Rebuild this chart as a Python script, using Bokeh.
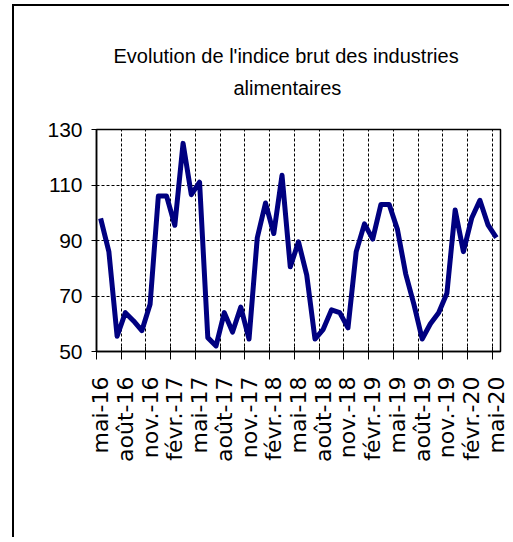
import math
from bokeh.plotting import figure
from bokeh.models import FixedTicker, LinearAxis, Range1d, Title
from bokeh.embed import file_html
from bokeh.resources import INLINE

# ---- data ----
indice = [98, 86, 55.5, 64, 61, 57.5, 67, 106, 106, 95.5, 125, 106.5, 111,
          55, 52, 64, 57, 66, 54.5, 91, 103.5, 92.5, 113.5, 80.5, 89.5,
          77.5, 54.5, 58, 65, 64, 58.5, 86, 96, 90.5, 103, 103, 94,
          78, 67, 54.5, 60, 64, 71, 101, 86, 98, 104.5, 95.5, 91]
tick_labels = ["mai-16", "août-16", "nov.-16", "févr.-17", "mai-17", "août-17",
               "nov.-17", "févr.-18", "mai-18", "août-18", "nov.-18", "févr.-19",
               "mai-19", "août-19", "nov.-19", "févr.-20", "mai-20"]
y_ticks = [50, 70, 90, 110, 130]
title_line1 = "Evolution  de l'indice brut des industries"
title_line2 = "alimentaires"

n = len(indice)
xs = list(range(n))
label_pos = [3 * k for k in range(len(tick_labels))]
bounds = [3 * k - 0.5 for k in range(len(tick_labels))]

SANS = "'Liberation Sans Narrow', 'Liberation Sans', Arial"

p = figure(width=497, height=533, x_range=Range1d(-0.5, n - 0.5), y_range=Range1d(50, 130),
           output_backend="svg", toolbar_location=None, title=None,
           min_border_left=82, min_border_right=11, min_border_top=123, min_border_bottom=188,
           background_fill_color="white", border_fill_color="white")
p.margin = (4, 0, 0, 12)
p.styles = {"border-left": "2px solid black", "border-top": "2px solid black"}

# spacer between frame and title lines
p.add_layout(Title(text=" ", text_font_size="2px", standoff=19), "above")
for txt, stand, off in [(title_line2, 16, 137), (title_line1, 0, 17)]:
    t = Title(text=txt, align="left", offset=off, text_font=SANS, text_font_size="20px",
              text_font_style="normal", text_color="black", standoff=stand)
    p.add_layout(t, "above")

p.outline_line_color = "black"
p.outline_line_width = 1.5

# y axis
ya = p.yaxis[0]
ya.ticker = FixedTicker(ticks=y_ticks)
ya.major_tick_in = 0
ya.major_tick_out = 5
ya.minor_tick_line_color = None
ya.axis_line_color = "black"
ya.axis_line_width = 1.5
ya.major_tick_line_color = "black"
ya.major_label_text_font = SANS
ya.major_label_text_font_size = "21px"
ya.major_label_text_color = "black"
ya.major_label_standoff = 9

# x axis 1: tick marks at category boundaries
xa = p.xaxis[0]
xa.ticker = FixedTicker(ticks=bounds)
xa.major_label_overrides = {b: "" for b in bounds}
xa.major_label_text_font_size = "1px"
xa.major_label_standoff = 0
xa.major_tick_in = 5
xa.major_tick_out = 8
xa.minor_tick_line_color = None
xa.axis_line_color = "black"
xa.axis_line_width = 1.5
xa.major_tick_line_color = "black"

# x axis 2: labels at category centres
xl = LinearAxis(ticker=FixedTicker(ticks=label_pos))
xl.major_label_overrides = {pos: lab for pos, lab in zip(label_pos, tick_labels)}
xl.major_label_orientation = math.pi / 2
xl.major_label_text_font = "DejaVu Sans"
xl.major_label_text_font_size = "22px"
xl.major_label_text_color = "black"
xl.major_label_standoff = 11
xl.major_tick_line_color = None
xl.minor_tick_line_color = None
xl.axis_line_color = None
p.add_layout(xl, "below")

# grids
p.xgrid.ticker = FixedTicker(ticks=bounds)
p.xgrid.grid_line_color = "black"
p.xgrid.grid_line_dash = "3 2"
p.xgrid.grid_line_width = 1
p.ygrid.ticker = FixedTicker(ticks=y_ticks)
p.ygrid.grid_line_color = "black"
p.ygrid.grid_line_dash = "3 2"
p.ygrid.grid_line_width = 1

p.line(xs, indice, line_color="#000080", line_width=5, line_join="round")

open("out.html", "w").write(file_html(p, INLINE))
